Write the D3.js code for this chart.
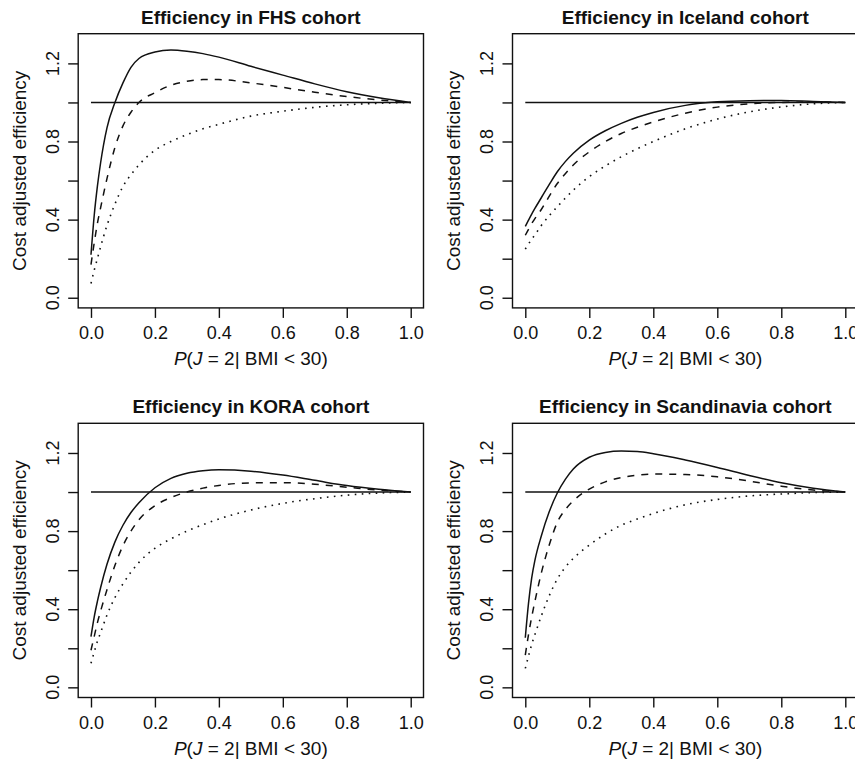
<!DOCTYPE html>
<html><head><meta charset="utf-8">
<script src="https://cdn.jsdelivr.net/npm/d3@7"></script>
<style>body{margin:0;background:#fff}svg{display:block}text{font-family:"Liberation Sans",Arial,Helvetica,sans-serif;fill:#111}</style>
</head><body><svg id="c" width="855" height="760"></svg>
<script>
// ---- data ----
const titles = ["Efficiency in FHS cohort","Efficiency in Iceland cohort","Efficiency in KORA cohort","Efficiency in Scandinavia cohort"];
const xGrid = [0,0.01,0.02,0.03,0.05,0.075,0.1,0.125,0.15,0.2,0.25,0.3,0.35,0.4,0.5,0.6,0.7,0.8,0.9,1.0];
const fhsSolid  = [0.22,0.42,0.57,0.69,0.87,1.0,1.10,1.18,1.225,1.258,1.268,1.262,1.25,1.232,1.185,1.14,1.095,1.055,1.024,1.0];
const fhsDashed = [0.17,0.28,0.38,0.46,0.61,0.77,0.88,0.95,1.0,1.05,1.088,1.108,1.117,1.117,1.10,1.077,1.052,1.03,1.013,1.0];
const fhsDotted = [0.073,0.14,0.20,0.26,0.37,0.48,0.57,0.63,0.68,0.755,0.80,0.835,0.865,0.888,0.93,0.955,0.975,0.988,0.996,1.0];
const iceSolid  = [0.365,0.397,0.428,0.457,0.512,0.58,0.645,0.697,0.74,0.807,0.855,0.893,0.924,0.949,0.985,1.003,1.009,1.01,1.005,1.0];
const iceDashed = [0.32,0.35,0.38,0.405,0.452,0.52,0.585,0.635,0.68,0.747,0.80,0.841,0.873,0.90,0.945,0.976,0.993,1.0,1.002,1.0];
const iceDotted = [0.249,0.275,0.30,0.322,0.37,0.42,0.466,0.51,0.551,0.62,0.675,0.722,0.763,0.80,0.865,0.915,0.952,0.977,0.993,1.0];
const koraSolid  = [0.26,0.36,0.44,0.51,0.63,0.745,0.83,0.895,0.945,1.022,1.07,1.096,1.109,1.114,1.107,1.087,1.06,1.033,1.014,1.0];
const koraDashed = [0.19,0.26,0.33,0.39,0.50,0.625,0.725,0.80,0.858,0.93,0.972,1.0,1.02,1.034,1.047,1.048,1.04,1.025,1.01,1.0];
const koraDotted = [0.123,0.18,0.235,0.28,0.37,0.46,0.53,0.59,0.64,0.712,0.76,0.80,0.833,0.862,0.908,0.942,0.966,0.984,0.995,1.0];
const scanSolid  = [0.254,0.43,0.56,0.65,0.775,0.9,0.995,1.065,1.118,1.178,1.203,1.21,1.207,1.196,1.164,1.126,1.085,1.048,1.02,1.0];
const scanDashed = [0.165,0.27,0.36,0.44,0.585,0.73,0.845,0.91,0.955,1.015,1.052,1.074,1.086,1.092,1.09,1.078,1.056,1.03,1.01,1.0];
const scanDotted = [0.097,0.16,0.22,0.27,0.365,0.47,0.555,0.615,0.66,0.728,0.785,0.83,0.862,0.89,0.935,0.962,0.98,0.99,0.997,1.0];
const refLine = [1.0, 1.0];
const xTicks = [0,0.2,0.4,0.6,0.8,1.0];
const xTickLabels = ["0.0","0.2","0.4","0.6","0.8","1.0"];
const yTicks = [0,0.2,0.4,0.6,0.8,1.0,1.2];
const yTickLabels = ["0.0","","0.4","","0.8","","1.2"];
const panelSeries = [
  [fhsSolid,fhsDashed,fhsDotted],
  [iceSolid,iceDashed,iceDotted],
  [koraSolid,koraDashed,koraDotted],
  [scanSolid,scanDashed,scanDotted]
];

// ---- layout ----
const svg = d3.select("#c");
const cols = [[78.2,423.5],[512.5,858.1]];
const rows = [[307.9,33.7],[697.5,423.3]];
const styles = [null,"7,7","1.6,5.4"];
const ink = "#111";

panelSeries.forEach((series,i)=>{
  const c = cols[i%2], r = rows[Math.floor(i/2)];
  const x = d3.scaleLinear().domain([-0.04,1.04]).range(c);
  const y = d3.scaleLinear().domain([-0.052,1.352]).range(r);
  const g = svg.append("g");
  // box
  g.append("rect").attr("x",c[0]).attr("y",r[1]).attr("width",c[1]-c[0]).attr("height",r[0]-r[1])
    .attr("fill","none").attr("stroke",ink).attr("stroke-width",1.4);
  // x axis
  const xa = g.append("g").attr("transform",`translate(0,${r[0]})`)
    .call(d3.axisBottom(x).tickValues(xTicks).tickSize(10).tickFormat((d,j)=>xTickLabels[j]).tickPadding(4));
  xa.select(".domain").remove();
  xa.selectAll("line").attr("stroke",ink).attr("stroke-width",1.4);
  xa.selectAll("text").attr("font-size","18px").attr("fill",ink).attr("dy",null).attr("y",31)
    .attr("font-family","Liberation Sans, Arial, sans-serif");
  // y axis
  const ya = g.append("g").attr("transform",`translate(${c[0]},0)`)
    .call(d3.axisLeft(y).tickValues(yTicks).tickSize(10).tickFormat(()=>""));
  ya.select(".domain").remove();
  ya.selectAll("line").attr("stroke",ink).attr("stroke-width",1.4);
  yTicks.forEach((v,j)=>{
    if(!yTickLabels[j]) return;
    g.append("text").attr("transform",`translate(${c[0]-19.5},${y(v)}) rotate(-90)`)
      .attr("text-anchor","middle").attr("font-size","18px").text(yTickLabels[j]);
  });
  // labels
  g.append("text").attr("transform",`translate(${c[0]-52.5},${(r[0]+r[1])/2}) rotate(-90)`)
    .attr("text-anchor","middle").attr("font-size","19px").text("Cost adjusted efficiency");
  const xl = g.append("text").attr("x",(x(0)+x(1))/2).attr("y",r[0]+57).attr("text-anchor","middle").attr("font-size","19px");
  xl.append("tspan").attr("font-style","italic").text("P");
  xl.append("tspan").text("(");
  xl.append("tspan").attr("font-style","italic").text("J");
  xl.append("tspan").text(" = 2| BMI < 30)");
  g.append("text").attr("x",(c[0]+c[1])/2).attr("y",r[1]-10).attr("text-anchor","middle")
    .attr("font-size","19px").attr("font-weight","bold").text(titles[i]);
  // reference line
  g.append("path").datum(refLine).attr("fill","none").attr("stroke",ink).attr("stroke-width",1.5)
    .attr("d",d3.line().x((d,j)=>x(j)).y(d=>y(d)));
  // curves
  const line = d3.line().x((d,j)=>x(xGrid[j])).y(d=>y(d)).curve(d3.curveMonotoneX);
  series.forEach((s,k)=>{
    g.append("path").datum(s).attr("fill","none").attr("stroke",ink)
      .attr("stroke-width",k===2?1.6:1.5).attr("stroke-dasharray",styles[k]).attr("d",line);
  });
});
</script></body></html>
